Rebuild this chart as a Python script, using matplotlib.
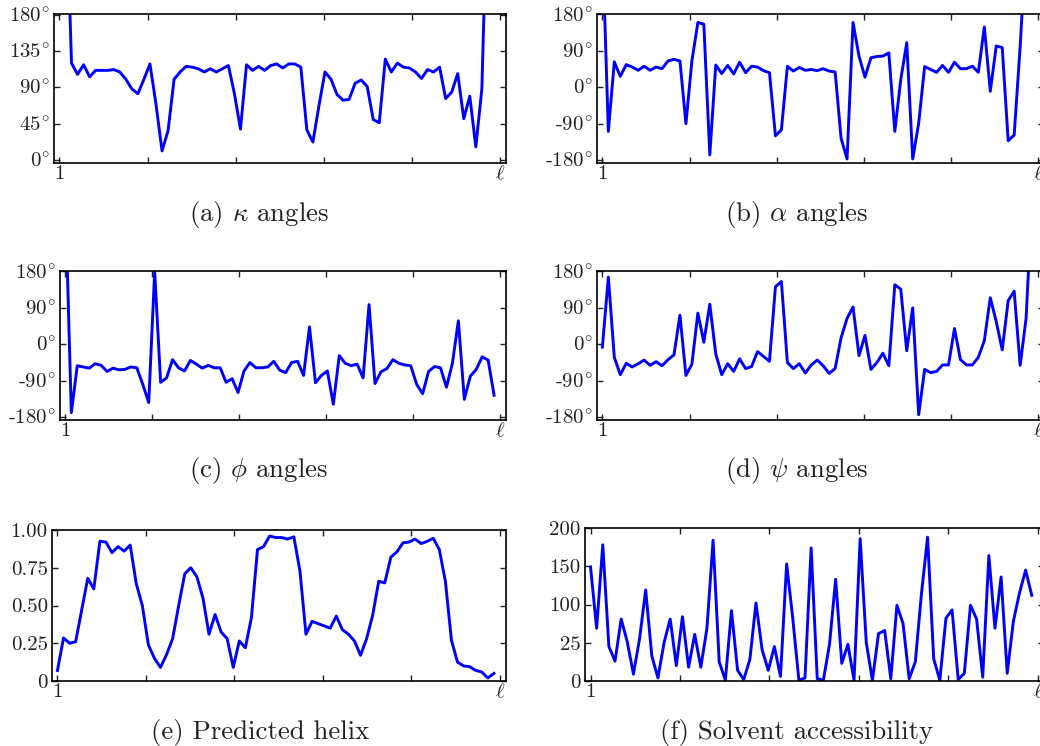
import matplotlib
matplotlib.use("Agg")
import matplotlib.pyplot as plt
import numpy as np

plt.rcParams["font.family"] = "serif"
plt.rcParams["font.serif"] = ["cmr10"]
plt.rcParams["mathtext.fontset"] = "cm"
plt.rcParams["axes.unicode_minus"] = False

W, H = 1040, 746

# per-residue profiles (values above the top limit are undefined ends, drawn off-chart)
kappa = [360, 360, 120, 106, 118, 103, 111, 111, 111, 112, 109, 100, 88, 82, 100, 119,
         69, 11, 36, 100, 109, 116, 115, 113, 109, 113, 109, 113, 117, 82, 38, 118, 111,
         116, 111, 117, 119, 114, 119, 119, 115, 37, 22, 67, 109, 100, 81, 74, 75, 95, 99,
         91, 50, 46, 125, 109, 120, 115, 114, 109, 101, 112, 109, 115, 76, 84, 107, 51,
         79, 16, 88, 360, 360]
alpha = [360, -109, 63, 27, 56, 50, 42, 52, 42, 50, 46, 65, 69, 65, -90, 65, 160, 156,
         -167, 55, 34, 54, 33, 62, 36, 52, 50, 41, 36, -120, -105, 52, 40, 49, 42, 44, 41,
         46, 40, 38, -126, -177, 160, 77, 25, 73, 76, 77, 85, -109, 19, 110, -177, -89, 51,
         44, 37, 54, 37, 62, 46, 46, 52, 37, 149, -10, 102, 98, -132, -118, 99, 360, 360]
phi = [360, -169, -53, -56, -59, -48, -52, -67, -59, -63, -62, -56, -58, -99, -144, 179,
       -94, -83, -38, -58, -66, -40, -49, -59, -52, -58, -58, -94, -85, -119, -66, -45,
       -58, -58, -56, -42, -64, -70, -45, -42, -77, 43, -95, -77, -66, -148, -28, -47,
       -53, -49, -83, 98, -97, -68, -60, -38, -47, -51, -53, -99, -122, -67, -55, -58,
       -106, -47, 58, -136, -79, -62, -31, -39, -126]
psi = [-7, 166, -32, -75, -47, -56, -48, -39, -52, -43, -53, -38, -26, 72, -77, -49, 77,
       5, 99, -24, -75, -48, -67, -36, -60, -55, -18, -30, -42, 142, 155, -45, -60, -48,
       -71, -51, -39, -53, -72, -60, 16, 64, 92, -28, 22, -62, -45, -22, -53, 147, 136,
       -16, 90, -174, -62, -70, -67, -51, -51, 39, -38, -51, -51, -32, 9, 115, 56, -14,
       108, 131, -52, 64, 360]
helix = [0.07, 0.285, 0.25, 0.26, 0.47, 0.68, 0.61, 0.925, 0.92, 0.85, 0.89, 0.86, 0.90,
         0.645, 0.50, 0.24, 0.15, 0.09, 0.175, 0.28, 0.50, 0.71, 0.75, 0.69, 0.55, 0.31,
         0.44, 0.325, 0.28, 0.09, 0.265, 0.22, 0.42, 0.87, 0.89, 0.96, 0.95, 0.95, 0.94,
         0.955, 0.73, 0.31, 0.395, 0.38, 0.365, 0.35, 0.43, 0.34, 0.31, 0.265, 0.17, 0.28,
         0.435, 0.66, 0.65, 0.82, 0.855, 0.915, 0.92, 0.94, 0.91, 0.925, 0.945, 0.87, 0.66,
         0.27, 0.125, 0.10, 0.095, 0.07, 0.06, 0.02, 0.05]
solvent = [149, 69, 178, 45, 26, 81, 51, 9, 55, 119, 33, 4, 50, 81, 20, 84, 18, 61, 18,
           69, 184, 25, 1, 92, 14, 2, 28, 102, 41, 14, 45, 6, 153, 82, 1, 4, 174, 3, 1,
           48, 133, 23, 48, 1, 186, 50, 1, 62, 66, 3, 99, 75, 3, 25, 114, 188, 29, 1, 82,
           93, 2, 10, 99, 81, 5, 164, 69, 136, 10, 78, 115, 145, 112]

seq_len = 74
residue = np.arange(1, len(kappa) + 1)

angle_ticks = [-180, -90, 0, 90, 180]
angle_labels = [r"-$180^{\!\circ}$", r"-$90^{\!\circ}$", r"$0^{\!\circ}$",
                r"$90^{\!\circ}$", r"$180^{\!\circ}$"]
kappa_ticks = [0, 45, 90, 135, 180]
kappa_labels = [r"$0^{\!\circ}$", r"$45^{\!\circ}$", r"$90^{\!\circ}$",
                r"$135^{\!\circ}$", r"$180^{\!\circ}$"]
helix_ticks = [0, 0.25, 0.5, 0.75, 1.0]
helix_labels = ["0", "0.25", "0.50", "0.75", "1.00"]
solvent_ticks = [0, 50, 100, 150, 200]
solvent_labels = ["0", "25", "100", "150", "200"]

panels = [
    # (pixel box l, t, r, b), data, ticks, labels, ylim, caption, caption position
    ((54, 14, 506, 163), kappa, kappa_ticks, kappa_labels, (-4, 181),
     r"(a) $\kappa$ angles", (259, 214)),
    ((597, 14, 1044, 163), alpha, angle_ticks, angle_labels, (-187, 181),
     r"(b) $\alpha$ angles", (797, 214)),
    ((60, 271, 506, 420), phi, angle_ticks, angle_labels, (-187, 181),
     r"(c) $\phi$ angles", (259, 471)),
    ((597, 271, 1044, 420), psi, angle_ticks, angle_labels, (-187, 181),
     r"(d) $\psi$ angles", (797, 471)),
    ((52, 530, 506, 681), helix, helix_ticks, helix_labels, (0, 1.0),
     "(e) Predicted helix", (260, 732)),
    ((585, 528, 1044, 681), solvent, solvent_ticks, solvent_labels, (0, 200),
     "(f) Solvent accessibility", (797, 732)),
]

fig = plt.figure(figsize=(W / 100, H / 100), dpi=100)

for (l, t, r, b), values, yt, yl, ylim, caption, (cx, cy) in panels:
    ax = fig.add_axes([l / W, 1 - b / H, (r - l) / W, (b - t) / H])
    ax.plot(residue, values, color="#0000ff", lw=2.1)
    ax.set_xlim(0.1, seq_len + 1)
    ax.set_ylim(*ylim)
    ax.set_xticks(np.linspace(1, seq_len, 6))
    ax.set_xticklabels(["1", "", "", "", "", r"$\ell$"])
    ax.set_yticks(yt)
    ax.set_yticklabels(yl)
    ax.tick_params(direction="in", top=True, right=True, length=4.5, width=1,
                   labelsize=15, colors="#222222")
    ax.tick_params(axis="x", pad=1.5)
    ax.tick_params(axis="y", pad=3)
    for s in ax.spines.values():
        s.set_linewidth(1.2)
    fig.text(cx / W, 1 - cy / H, caption, ha="center", va="center", fontsize=19.3,
             color="#222222")

fig.savefig("out.png", dpi=100)
